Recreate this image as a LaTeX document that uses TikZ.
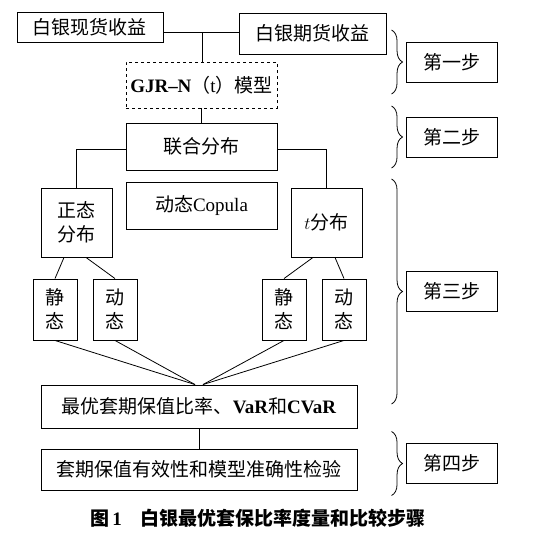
\documentclass[tikz,border=0pt]{standalone}
\usepackage{fontspec}
\setmainfont{Noto Sans CJK SC}
\newfontfamily\lat{Liberation Serif}
\usetikzlibrary{decorations.pathreplacing}

\begin{document}
\begin{tikzpicture}[x=1pt, y=-1pt,
    box/.style={draw, line width=0.9pt, inner sep=0pt, align=center,
      font=\fontsize{19}{24}\selectfont},
    stepbox/.style={box, minimum width=91pt, minimum height=40pt},
    link/.style={line width=0.8pt},
    stepbrace/.style={decorate, decoration={brace, amplitude=11pt}, line width=0.8pt}]
  \useasboundingbox (0, 0) rectangle (542, 536);
  % step 1
  \node [box, minimum width=146pt, minimum height=30pt] (spot) at (90, 27) {白银现货收益};
  \node [box, minimum width=147pt, minimum height=41pt] (fut) at (312.5, 33.5) {白银期货收益};
  \node [box, dashed, minimum width=151pt, minimum height=46pt] (gjr) at (201.5, 85)
        {{\lat\bfseries GJR–N}（{\lat t}）模型};
  \coordinate (join) at (202, 32);
  \draw [link] (spot.east |- join) -- (fut.west |- join);
  \draw [link] (join) -- (join |- gjr.north);
  % step 2
  \node [box, minimum width=151pt, minimum height=47pt] (joint) at (201.5, 146.5) {联合分布};
  \draw [link] (gjr.south) -- (joint.north);
  % step 3
  \node [box, minimum width=151pt, minimum height=47pt] (copula) at (201.5, 205.5)
        {动态{\lat Copula}};
  \node [box, minimum width=71pt, minimum height=69pt] (normal) at (76.5, 222.5) {正态\\分布};
  \node [box, minimum width=71pt, minimum height=69pt] (tdist) at (326.5, 222.5) {$t$分布};
  \draw [link] ([yshift=-2.5pt]joint.west) -| (normal.north);
  \draw [link] ([yshift=-2.5pt]joint.east) -| (tdist.north);
  \node [box, minimum width=44pt, minimum height=61pt] (s1) at (55, 309.5) {静\\态};
  \node [box, minimum width=44pt, minimum height=61pt] (d1) at (115, 309.5) {动\\态};
  \node [box, minimum width=44pt, minimum height=61pt] (s2) at (284, 309.5) {静\\态};
  \node [box, minimum width=44pt, minimum height=61pt] (d2) at (344, 309.5) {动\\态};
  \draw [link] ([xshift=-12.5pt]normal.south) -- (s1.north);
  \draw [link] ([xshift=9.5pt]normal.south) -- (d1.north);
  \draw [link] ([xshift=-13.5pt]tdist.south) -- (s2.north);
  \draw [link] ([xshift=8.5pt]tdist.south) -- (d2.north);
  \node [box, minimum width=316pt, minimum height=43pt] (opt) at (199, 406.5)
        {最优套期保值比率、{\lat\bfseries VaR}和{\lat\bfseries CVaR}};
  \foreach \n in {s1, d1}
    \draw [link] (\n.south) -- ([xshift=-4pt]opt.north);
  \foreach \n in {s2, d2}
    \draw [link] (\n.south) -- ([xshift=4pt]opt.north);
  % step 4
  \node [box, minimum width=316pt, minimum height=41pt] (test) at (199, 469.5)
        {套期保值有效性和模型准确性检验};
  \draw [link] (opt.south) -- (test.north);
  % steps on the right
  \node [stepbox] (step1) at (451.5, 62) {第一步};
  \node [stepbox] (step2) at (451.5, 137) {第二步};
  \node [stepbox] (step3) at (451.5, 291.5) {第三步};
  \node [stepbox] (step4) at (451.5, 463.5) {第四步};
  \foreach \s/\h in {step1/32, step2/31, step3/112.5, step4/32}
    \draw [stepbrace] ([xshift=-14pt, yshift=\h pt]\s.west) -- ([xshift=-14pt, yshift=-\h pt]\s.west);
  \node [font=\fontsize{19}{24}\selectfont\bfseries] (caption) at (258, 518)
        {图\,{\lat 1}\quad 白银最优套保比率度量和比较步骤};
\end{tikzpicture}
\end{document}
